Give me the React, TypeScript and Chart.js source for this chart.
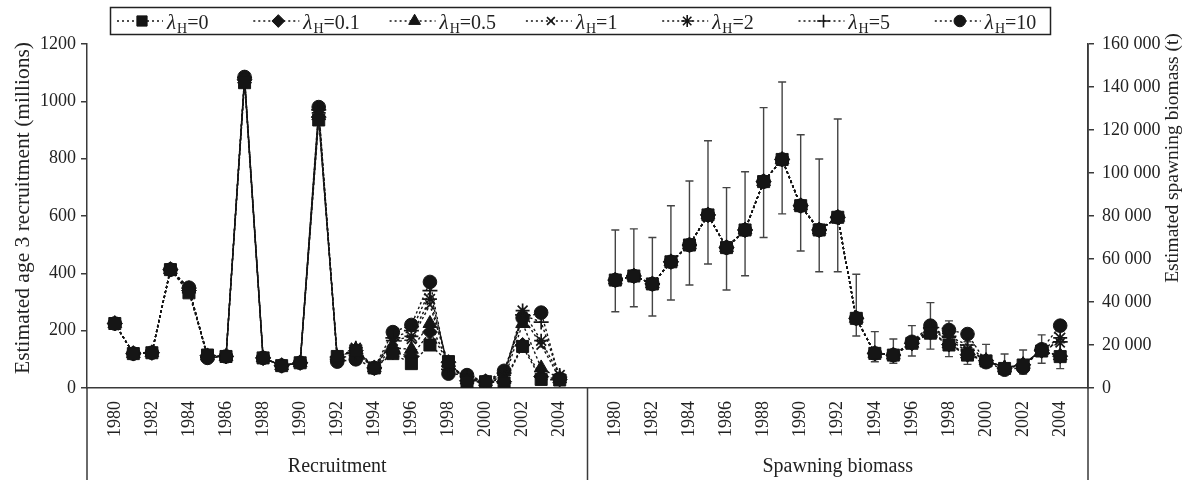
import React, { useEffect, useRef } from 'react';
import { Chart, registerables } from 'chart.js';
import { drawPoint } from 'chart.js/helpers';

Chart.register(...registerables);

// ---------- data ----------
const years = [1980, 1981, 1982, 1983, 1984, 1985, 1986, 1987, 1988, 1989, 1990, 1991, 1992,
  1993, 1994, 1995, 1996, 1997, 1998, 1999, 2000, 2001, 2002, 2003, 2004];

const lambdas = ['0', '0.1', '0.5', '1', '2', '5', '10'];
const groupNames = ['Recruitment', 'Spawning biomass'];
const leftTitle = 'Estimated age 3 recruitment (millions)';
const rightTitle = 'Estimated spawning biomass (t)';

// Recruitment (millions), 1980-2004
const rec_0 = [225, 120, 123, 413, 332, 115, 110, 1065, 105, 78, 88, 935, 110, 130, 70, 120, 85, 150, 92, 20, 22, 18, 145, 30, 28];
const rec_01 = [225, 120, 123, 413, 340, 113, 110, 1075, 105, 78, 88, 945, 108, 130, 70, 125, 110, 195, 90, 25, 22, 22, 150, 40, 30];
const rec_05 = [225, 120, 123, 413, 345, 112, 110, 1078, 105, 78, 88, 950, 107, 135, 70, 140, 135, 225, 88, 28, 22, 30, 225, 70, 32];
const rec_1 = [225, 120, 123, 413, 345, 111, 110, 1080, 105, 78, 88, 955, 106, 135, 70, 160, 170, 290, 82, 32, 22, 38, 250, 150, 35];
const rec_2 = [225, 120, 123, 413, 347, 110, 110, 1082, 105, 78, 88, 960, 105, 140, 70, 165, 180, 310, 78, 36, 22, 45, 270, 165, 45];
const rec_5 = [225, 120, 123, 413, 348, 108, 110, 1083, 105, 78, 88, 970, 100, 120, 70, 175, 200, 340, 65, 40, 22, 52, 255, 230, 38];
const rec_10 = [225, 120, 123, 413, 350, 105, 110, 1085, 105, 78, 88, 980, 92, 100, 70, 195, 220, 370, 50, 45, 22, 60, 245, 263, 32];

// Spawning biomass (t), 1980-2004
const sb_0 = [50200, 52100, 48400, 58700, 66500, 80500, 65300, 73500, 96000, 106300, 84800, 73500, 79400, 32400, 16100, 15300, 20800, 25500, 20000, 15300, 12600, 9100, 10700, 17200, 14600];
const sb_01 = [50200, 52100, 48400, 58700, 66500, 80500, 65300, 73500, 96000, 106300, 84800, 73500, 79400, 32400, 16100, 15300, 20800, 25800, 20200, 15500, 12700, 9200, 10800, 17300, 14800];
const sb_05 = [50200, 52100, 48400, 58700, 66500, 80500, 65300, 73500, 96000, 106300, 84800, 73500, 79400, 32400, 16100, 15300, 20800, 26000, 20500, 15800, 12800, 9300, 10900, 17400, 15000];
const sb_1 = [50200, 52100, 48400, 58700, 66500, 80500, 65300, 73500, 96000, 106300, 84800, 73500, 79400, 32400, 16100, 15300, 20800, 27000, 22500, 17000, 13000, 9500, 11000, 17500, 21000];
const sb_2 = [50200, 52100, 48400, 58700, 66500, 80500, 65300, 73500, 96000, 106300, 84800, 73500, 79400, 32400, 16100, 15300, 20800, 27500, 23500, 18000, 13000, 9500, 11000, 17600, 23300];
const sb_5 = [50200, 52100, 48400, 58700, 66500, 80500, 65300, 73500, 96000, 106300, 84800, 73500, 79400, 32400, 16100, 15300, 20800, 28000, 24000, 20000, 12800, 9300, 10800, 17800, 21500];
const sb_10 = [50200, 52100, 48400, 58700, 66500, 80500, 65300, 73500, 96000, 106300, 84800, 73500, 79400, 32400, 16100, 15300, 21500, 29000, 27000, 25100, 12000, 8500, 9500, 18000, 29000];

// Error bars (spawning biomass, lambda_H = 0)
const sbLow = [35500, 37800, 33500, 40900, 47900, 57700, 45600, 52200, 70000, 81000, 63700, 54100, 54100, 24200, 12200, 11500, 14900, 18100, 14600, 11000, 9500, 6500, 6500, 11500, 9000];
const sbHigh = [73500, 74000, 70000, 84800, 96300, 115000, 93200, 100600, 130400, 142300, 117800, 106500, 125100, 52900, 26200, 22800, 29000, 39700, 31200, 21500, 20300, 15800, 17700, 24700, 21000];

const recSeries = [rec_0, rec_01, rec_05, rec_1, rec_2, rec_5, rec_10];
const sbSeries = [sb_0, sb_01, sb_05, sb_1, sb_2, sb_5, sb_10];

const leftTicksMax = 1200;
const leftStep = 200;
const rightTicksMax = 160000;
const rightStep = 20000;

// ---------- style ----------
const markerStyles = ['rect', 'rectRot', 'triangle', 'crossRot', 'star', 'cross', 'circle'];
const markerRadii = [8.5, 7.5, 8, 6.5, 7, 7.5, 6.8];
const INK = '#151515';
const AXIS = '#3a3a3a';
const FONT = '"Liberation Serif", "Times New Roman", serif';

// category layout: blank, 25 years, blank | blank, 25 years, blank
const labels: string[] = ['', ...years.map(String), '', '', ...years.map(String), ''];
const REC_START = 1;
const SB_START = years.length + 3;

function padRec(v: number[]) {
  const out: (number | null)[] = labels.map(() => null);
  v.forEach((d, i) => { out[REC_START + i] = d; });
  return out;
}
function padSb(v: number[]) {
  const out: (number | null)[] = labels.map(() => null);
  v.forEach((d, i) => { out[SB_START + i] = d; });
  return out;
}

function fmtThousands(v: number) {
  return String(v).replace(/\B(?=(\d{3})+(?!\d))/g, ' ');
}

const isCross = (s: string) => s === 'cross' || s === 'crossRot' || s === 'star';

const decorPlugin = {
  id: 'decor',
  beforeDatasetsDraw(chart: any) {
    const ctx = chart.ctx;
    const xs = chart.scales.x;
    const y1 = chart.scales.y1;
    ctx.save();
    ctx.strokeStyle = '#444';
    ctx.lineWidth = 1.4;
    years.forEach((_, k) => {
      const x = xs.getPixelForValue(SB_START + k);
      const yl = y1.getPixelForValue(sbLow[k]);
      const yh = y1.getPixelForValue(sbHigh[k]);
      ctx.beginPath();
      ctx.moveTo(x, yl); ctx.lineTo(x, yh);
      ctx.moveTo(x - 4, yl); ctx.lineTo(x + 4, yl);
      ctx.moveTo(x - 4, yh); ctx.lineTo(x + 4, yh);
      ctx.stroke();
    });
    ctx.restore();
  },
  afterDraw(chart: any) {
    const ctx = chart.ctx;
    const area = chart.chartArea;
    const xs = chart.scales.x;
    ctx.save();

    // category group separators below the axis
    const mid = (xs.getPixelForValue(SB_START - 2) + xs.getPixelForValue(SB_START - 1)) / 2;
    ctx.strokeStyle = AXIS;
    ctx.lineWidth = 1.5;
    ctx.beginPath();
    [area.left, mid, area.right].forEach((x) => {
      ctx.moveTo(x, area.bottom);
      ctx.lineTo(x, chart.height);
    });
    ctx.moveTo(area.right, area.top);
    ctx.lineTo(area.right, area.bottom);
    ctx.stroke();

    // group labels
    ctx.fillStyle = '#222';
    ctx.font = `20px ${FONT}`;
    ctx.textAlign = 'center';
    ctx.textBaseline = 'alphabetic';
    ctx.fillText(groupNames[0], (area.left + mid) / 2, 472);
    ctx.fillText(groupNames[1], (mid + area.right) / 2, 472);

    // axis titles
    ctx.save();
    ctx.font = `21.5px ${FONT}`;
    ctx.translate(23, 208);
    ctx.rotate(-Math.PI / 2);
    ctx.textBaseline = 'middle';
    ctx.fillText(leftTitle, 0, 0);
    ctx.restore();
    ctx.save();
    ctx.font = `19.5px ${FONT}`;
    ctx.translate(1173, 158);
    ctx.rotate(-Math.PI / 2);
    ctx.textBaseline = 'middle';
    ctx.fillText(rightTitle, 0, 0);
    ctx.restore();

    // legend
    ctx.strokeStyle = '#222';
    ctx.lineWidth = 1.5;
    ctx.strokeRect(110.5, 7.5, 940, 27);
    const ly = 21;
    lambdas.forEach((lam, i) => {
      const mx = 142 + i * 136.3;
      ctx.save();
      ctx.strokeStyle = INK;
      ctx.lineWidth = 1.4;
      ctx.setLineDash([2, 3]);
      ctx.beginPath();
      ctx.moveTo(mx - 25, ly);
      ctx.lineTo(mx + 21, ly);
      ctx.stroke();
      ctx.setLineDash([]);
      ctx.fillStyle = INK;
      ctx.strokeStyle = INK;
      ctx.lineWidth = isCross(markerStyles[i]) ? 1.6 : 1;
      drawPoint(ctx, { pointStyle: markerStyles[i], radius: markerRadii[i] * 0.85, rotation: 0, borderWidth: ctx.lineWidth } as any, mx, ly);
      ctx.restore();
      let tx = mx + 25;
      ctx.fillStyle = '#222';
      ctx.textAlign = 'left';
      ctx.textBaseline = 'alphabetic';
      ctx.font = `italic 21px ${FONT}`;
      ctx.fillText('λ', tx, 29);
      tx += ctx.measureText('λ').width + 1;
      ctx.font = `14px ${FONT}`;
      ctx.fillText('H', tx, 33);
      tx += ctx.measureText('H').width;
      ctx.font = `20px ${FONT}`;
      ctx.fillText('=' + lam, tx, 29);
    });

    ctx.restore();
  },
};

export default function App() {
  const ref = useRef<HTMLCanvasElement | null>(null);

  useEffect(() => {
    document.body.style.margin = '0';
    const canvas = ref.current;
    if (!canvas) return;

    const datasets: any[] = [];
    lambdas.forEach((lam, i) => {
      const common = {
        label: 'λH=' + lam,
        borderColor: INK,
        backgroundColor: INK,
        pointBackgroundColor: INK,
        pointBorderColor: INK,
        pointStyle: markerStyles[i],
        pointRadius: markerRadii[i],
        pointBorderWidth: isCross(markerStyles[i]) ? 1.7 : 1,
        borderWidth: 1.4,
        borderDash: [2.5, 2.5],
        spanGaps: false,
        fill: false,
        tension: 0,
      };
      datasets.push({ ...common, data: padRec(recSeries[i]), yAxisID: 'y' });
      datasets.push({ ...common, data: padSb(sbSeries[i]), yAxisID: 'y1' });
    });

    const tickFont = { family: FONT, size: 18 };

    const chart = new Chart(canvas, {
      type: 'line',
      data: { labels, datasets },
      options: {
        responsive: false,
        animation: false,
        devicePixelRatio: 1,
        layout: { padding: { top: 44, left: 0, right: 0, bottom: 0 } },
        plugins: { legend: { display: false }, tooltip: { enabled: false } },
        scales: {
          x: {
            type: 'category',
            offset: true,
            grid: { display: false, drawTicks: false },
            border: { display: true, color: AXIS, width: 1.5 },
            ticks: {
              autoSkip: false,
              minRotation: 90,
              maxRotation: 90,
              padding: 13,
              color: '#222',
              font: tickFont,
              callback: (_v: any, index: number) => {
                const l = labels[index];
                return l && Number(l) % 2 === 0 ? l : '';
              },
            },
            afterFit: (s: any) => { s.height = 92; },
          },
          y: {
            position: 'left',
            min: 0,
            max: leftTicksMax,
            grid: { display: true, drawOnChartArea: false, drawTicks: true, tickLength: 6, color: AXIS, lineWidth: 1.5 },
            border: { display: true, color: AXIS, width: 1.5 },
            ticks: { stepSize: leftStep, padding: 5, color: '#222', font: tickFont, callback: (v: any) => String(v) },
            afterFit: (s: any) => { s.width = 87; },
          },
          y1: {
            position: 'right',
            min: 0,
            max: rightTicksMax,
            grid: { display: true, drawOnChartArea: false, drawTicks: true, tickLength: 6, color: AXIS, lineWidth: 1.5 },
            border: { display: true, color: AXIS, width: 1.5 },
            ticks: {
              stepSize: rightStep,
              padding: 8,
              color: '#222',
              font: tickFont,
              callback: (v: any) => fmtThousands(Number(v)),
            },
            afterFit: (s: any) => { s.width = 101; },
          },
        },
      } as any,
      plugins: [decorPlugin],
    });

    return () => chart.destroy();
  }, []);

  return (
    <div style={{ width: 1189, height: 480, position: 'relative', background: '#fff' }}>
      <canvas ref={ref} width={1189} height={480} style={{ display: 'block', width: 1189, height: 480 }} />
    </div>
  );
}
